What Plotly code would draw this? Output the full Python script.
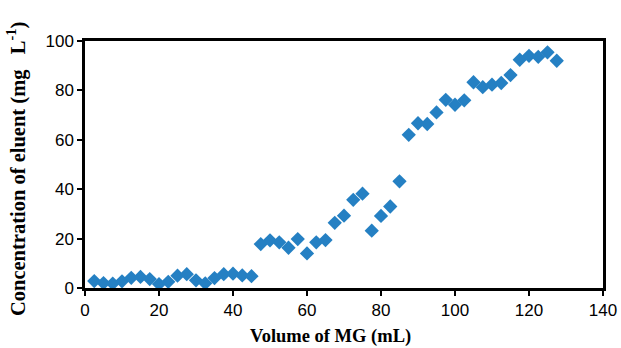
import plotly.graph_objects as go

volume = [2.5, 5, 7.5, 10, 12.5, 15, 17.5, 20, 22.5, 25, 27.5, 30, 32.5, 35, 37.5, 40, 42.5, 45,
          47.5, 50, 52.5, 55, 57.5, 60, 62.5, 65, 67.5, 70, 72.5, 75, 77.5, 80, 82.5, 85,
          87.5, 90, 92.5, 95, 97.5, 100, 102.5, 105, 107.5, 110, 112.5, 115, 117.5, 120, 122.5, 125, 127.5]
concentration = [2.8, 2.0, 1.8, 2.7, 4.1, 4.5, 3.6, 1.6, 2.5, 5.0, 5.6, 3.1, 1.9, 4.0, 5.6, 5.8, 5.1, 4.8,
                 17.8, 19.3, 18.5, 16.3, 19.8, 14.0, 18.5, 19.4, 26.4, 29.3, 35.7, 38.2, 23.2, 29.2, 33.0, 43.2,
                 62.0, 66.7, 66.4, 71.1, 76.2, 74.2, 76.0, 83.3, 81.3, 82.3, 83.0, 86.2, 92.4, 94.0, 93.6, 95.4, 92.0]

x_ticks = [0, 20, 40, 60, 80, 100, 120, 140]
y_ticks = [0, 20, 40, 60, 80, 100]

x_title = "<b>Volume of MG (mL)</b>"
y_title = "<b>Concentration of eluent (mg&nbsp;&nbsp; L<sup>-1</sup>)</b>"

fig = go.Figure()
fig.add_trace(go.Scatter(
    x=volume, y=concentration, mode="markers",
    marker=dict(symbol="diamond", size=11, color="#2580c3", line=dict(width=0)),
    showlegend=False, cliponaxis=False,
))

axis_common = dict(
    showgrid=False, zeroline=False, showline=True, linecolor="black", linewidth=2.5,
    mirror=True, ticks="outside", ticklen=5, tickwidth=1.5, tickcolor="black",
    tickfont=dict(family="Liberation Sans, Arial", size=17, color="black"),
    automargin=False,
)

fig.update_layout(
    width=621, height=348,
    margin=dict(l=85, r=18, t=41, b=60),
    paper_bgcolor="white", plot_bgcolor="white",
    xaxis=dict(range=[0, 140], tickvals=x_ticks, **axis_common),
    yaxis=dict(range=[0, 100], tickvals=y_ticks, **axis_common),
    annotations=[
        dict(text=x_title, xref="paper", yref="paper", x=0.474, y=-0.198,
             xanchor="center", yanchor="middle", showarrow=False,
             font=dict(family="Liberation Serif, Times New Roman", size=18.5, color="black")),
        dict(text=y_title, xref="paper", yref="paper", x=-0.132, y=0.48,
             xanchor="center", yanchor="middle", showarrow=False, textangle=-90,
             font=dict(family="Liberation Serif, Times New Roman", size=20.5, color="black")),
    ],
)

fig.write_html("out.html")
